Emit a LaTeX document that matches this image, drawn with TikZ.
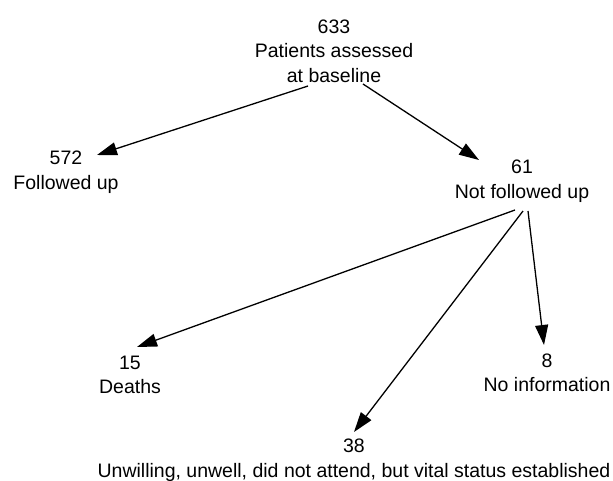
\documentclass[tikz,border=0pt]{standalone}
\usepackage{fontspec}
\setmainfont{Liberation Sans}
\usetikzlibrary{arrows.meta}

\begin{document}
\begin{tikzpicture}[
    x=1pt, y=-1pt,
    count/.style={align=center, inner sep=0pt, font=\fontsize{19.5}{24.5}\selectfont},
    arrow/.style={-{Triangle[length=20pt,width=13pt]}, line width=1.3pt}
]
\useasboundingbox (0,0) rectangle (613,480);

% Baseline cohort
\node[count] (base) at (334,51) {633\\Patients assessed\\at baseline};

% First split
\node[count] (fu) at (66,172) {572\\Followed up};
\node[count] (nfu) at (522,181) {61\\Not followed up};

% Outcomes of those not followed up
\node[count] (death) at (130,375) {15\\Deaths};
\node[count] (vital) at (354,460) {38\\Unwilling, unwell, did not attend, but vital status established};
\node[count] (noinfo) at (547,373) {8\\No information};

% Connections
\draw[arrow] ([shift={(-26,35)}]base.center) -- ([shift={(31,-17)}]fu.center);
\draw[arrow] ([shift={(29,33)}]base.center) -- ([shift={(-43,-21)}]nfu.center);

\draw[arrow] ([shift={(-7,29)}]nfu.center) -- ([shift={(7,-28)}]death.center);
\draw[arrow] ([shift={(1,30)}]nfu.center) -- ([shift={(0,-28)}]vital.center);
\draw[arrow] ([shift={(6,30)}]nfu.center) -- ([shift={(-3,-28)}]noinfo.center);
\end{tikzpicture}
\end{document}
